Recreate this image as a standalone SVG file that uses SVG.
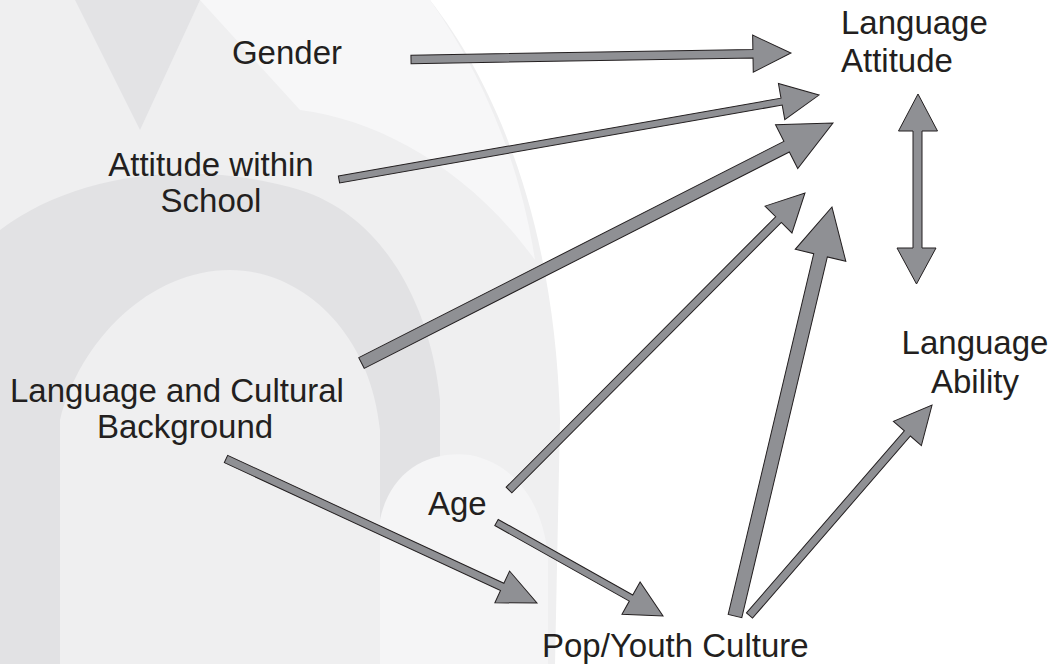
<svg xmlns="http://www.w3.org/2000/svg" width="1051" height="664" viewBox="0 0 1051 664">
  <style>
    .lbl { font-family: "Liberation Sans", Arial, sans-serif; font-size: 33px; fill: #231f20; }
    .arr { fill: #8f9094; stroke: #231f20; stroke-width: 1; stroke-linejoin: miter; }
  </style>

  <rect width="1051" height="664" fill="#ffffff"/>

  <!-- faint arch emblem in the background -->
  <g id="backdrop">
    <path fill="#efeff0" d="M0,0 H430 C500,90 555,230 560,420 L555,664 H0 Z"/>
    <path fill="#f7f7f8" d="M200,0 H430 C480,70 520,160 535,260 C470,170 380,120 300,110 L200,0 Z"/>
    <path fill="#e3e3e5" d="M75,0 H200 L140,130 Z"/>
    <path fill="#e2e2e4" d="M0,230 C80,170 200,160 300,190 C380,215 430,300 440,400 L440,664 H380 L380,430 C370,330 300,270 230,270 C150,270 80,340 60,420 L60,664 H0 Z"/>
    <path fill="#f5f5f6" d="M380,664 L380,520 C390,470 430,450 470,455 C520,465 545,510 548,560 L548,664 Z"/>
  </g>

  <!-- connectors: each arrow is drawn along +x from its tail, then placed -->
  <g id="connectors">
    <polygon id="gender-attitude" class="arr" transform="translate(411 59.5) rotate(-0.98)"
      points="0,-4.25 342,-4.25 342,-18.5 380,0 342,18.5 342,4.25 0,4.25"/>
    <polygon id="school-attitude" class="arr" transform="translate(339 179.5) rotate(-9.98)"
      points="0,-3.5 449.4,-3.5 449.4,-18.35 487.4,0 449.4,18.35 449.4,3.5 0,3.5"/>
    <polygon id="background-attitude" class="arr" transform="translate(361.5 363) rotate(-26.97)"
      points="0,-6 477,-6 477,-24.5 529,0 477,24.5 477,6 0,6"/>
    <polygon id="age-attitude" class="arr" transform="translate(509 490) rotate(-45.1)"
      points="0,-4 381.8,-4 381.8,-19 419.3,0 381.8,19 381.8,4 0,4"/>
    <polygon id="pop-attitude" class="arr" transform="translate(735 616) rotate(-76.66)"
      points="0,-7 370.7,-7 370.7,-26 420.3,0 370.7,26 370.7,7 0,7"/>
    <polygon id="pop-ability" class="arr" transform="translate(749.5 615.5) rotate(-49.07)"
      points="0,-4 241,-4 241,-18.5 278.6,0 241,18.5 241,4 0,4"/>
    <polygon id="background-pop" class="arr" transform="translate(226 459) rotate(24.85)"
      points="0,-4 304.4,-4 304.4,-17.5 342.7,0 304.4,17.5 304.4,4 0,4"/>
    <polygon id="age-pop" class="arr" transform="translate(496.5 522.5) rotate(29.32)"
      points="0,-3.5 154.3,-3.5 154.3,-18.5 191,0 154.3,18.5 154.3,3.5 0,3.5"/>
    <polygon id="attitude-ability" class="arr"
      points="918,94 937.5,131 922,131 922,248 936,248 916.5,284 897,248 913,248 913,131 898.5,131"/>
  </g>

  <g id="gender">
    <text class="lbl" x="287" y="64" text-anchor="middle">Gender</text>
  </g>
  <g id="language-attitude">
    <text class="lbl" x="841" y="34">Language</text>
    <text class="lbl" x="841" y="72">Attitude</text>
  </g>
  <g id="attitude-within-school">
    <text class="lbl" x="211" y="176" text-anchor="middle">Attitude within</text>
    <text class="lbl" x="211" y="212" text-anchor="middle">School</text>
  </g>
  <g id="language-cultural-background">
    <text class="lbl" x="10" y="402">Language and Cultural</text>
    <text class="lbl" x="97" y="438">Background</text>
  </g>
  <g id="language-ability">
    <text class="lbl" x="975" y="354" text-anchor="middle">Language</text>
    <text class="lbl" x="975" y="393" text-anchor="middle">Ability</text>
  </g>
  <g id="age">
    <text class="lbl" x="428" y="515">Age</text>
  </g>
  <g id="pop-youth-culture">
    <text class="lbl" x="542" y="657">Pop/Youth Culture</text>
  </g>
</svg>
